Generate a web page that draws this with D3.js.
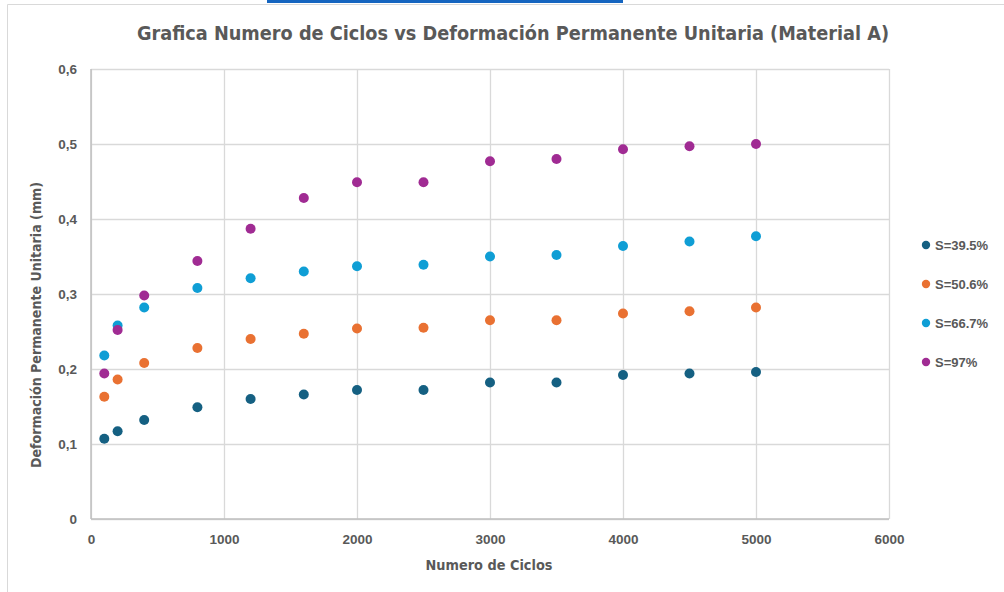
<!DOCTYPE html>
<html><head><meta charset="utf-8">
<script src="https://cdn.jsdelivr.net/npm/d3@7"></script>
<style>
html,body{margin:0;padding:0;background:#fff;}
svg{display:block;}
</style></head>
<body>
<svg id="chart" width="1004" height="592"></svg>
<script>
const cycles = [100, 200, 400, 800, 1200, 1600, 2000, 2500, 3000, 3500, 4000, 4500, 5000];
const seriesNames = ["S=39.5%", "S=50.6%", "S=66.7%", "S=97%"];
const s395 = [0.107, 0.117, 0.132, 0.149, 0.160, 0.166, 0.172, 0.172, 0.182, 0.182, 0.192, 0.194, 0.196];
const s506 = [0.163, 0.186, 0.208, 0.228, 0.240, 0.247, 0.254, 0.255, 0.265, 0.265, 0.274, 0.277, 0.282];
const s667 = [0.218, 0.258, 0.282, 0.308, 0.321, 0.330, 0.337, 0.339, 0.350, 0.352, 0.364, 0.370, 0.377];
const s97  = [0.194, 0.252, 0.298, 0.344, 0.387, 0.428, 0.449, 0.449, 0.477, 0.480, 0.493, 0.497, 0.500];
const seriesColors = ["#156082", "#E97132", "#0F9ED5", "#A02B93"];
const xTicks = [0, 1000, 2000, 3000, 4000, 5000, 6000];
const yTicks = [0, 0.1, 0.2, 0.3, 0.4, 0.5, 0.6];
const title = "Grafica Numero de Ciclos vs Deformación Permanente Unitaria (Material A)";
const xTitle = "Numero de Ciclos";
const yTitle = "Deformación Permanente Unitaria (mm)";

const allSeries = [s395, s506, s667, s97];
const svg = d3.select("#chart");

// frame
svg.append("line").attr("x1", 7.5).attr("x2", 1004).attr("y1", 4.5).attr("y2", 4.5).attr("stroke", "#d9d9d9").attr("stroke-width", 1);
svg.append("line").attr("x1", 7.5).attr("x2", 7.5).attr("y1", 4.5).attr("y2", 592).attr("stroke", "#d9d9d9").attr("stroke-width", 1);
svg.append("rect").attr("x", 267).attr("y", 0).attr("width", 356).attr("height", 3).attr("fill", "#1565C0");

const L = 91, R = 889, T = 69, B = 519;
const x = d3.scaleLinear().domain([0, 6000]).range([L, R]);
const y = d3.scaleLinear().domain([0, 0.6]).range([B, T]);

const fmt = d => d === 0 ? "0" : d3.format(".1f")(d).replace(".", ",");

// grid
const gx = svg.append("g").attr("transform", `translate(0,${B})`)
  .call(d3.axisBottom(x).tickValues(xTicks).tickSize(-(B - T)).tickFormat(d => d));
gx.select(".domain").remove();
gx.selectAll(".tick line").attr("stroke", "#d9d9d9").attr("stroke-width", 1.3);
gx.selectAll(".tick text").attr("dy", 0).attr("y", 25)
  .attr("font-family", "'Liberation Sans', Arial, sans-serif").attr("font-weight", "bold")
  .attr("font-size", 13.5).attr("fill", "#595959");

const gy = svg.append("g").attr("transform", `translate(${L},0)`)
  .call(d3.axisLeft(y).tickValues(yTicks).tickSize(-(R - L)).tickFormat(fmt));
gy.select(".domain").remove();
gy.selectAll(".tick line").attr("stroke", "#d9d9d9").attr("stroke-width", 1.3);
gy.selectAll(".tick text").attr("x", -14).attr("dy", "0.35em")
  .attr("font-family", "'Liberation Sans', Arial, sans-serif").attr("font-weight", "bold")
  .attr("font-size", 13.5).attr("fill", "#595959");

// axis lines
svg.append("line").attr("x1", L).attr("x2", R).attr("y1", B).attr("y2", B).attr("stroke", "#bfbfbf").attr("stroke-width", 1.5);
svg.append("line").attr("x1", L).attr("x2", L).attr("y1", T).attr("y2", B).attr("stroke", "#bfbfbf").attr("stroke-width", 1.5);

// points
allSeries.forEach((vals, i) => {
  svg.append("g").selectAll("circle").data(vals).join("circle")
    .attr("cx", (d, j) => x(cycles[j])).attr("cy", d => y(d))
    .attr("r", 5).attr("fill", seriesColors[i]);
});

// title
svg.append("text").attr("x", 513).attr("y", 40).attr("text-anchor", "middle")
  .attr("font-family", "'Liberation Sans Narrow', 'DejaVu Sans Condensed', sans-serif")
  .attr("font-weight", "bold").attr("font-size", 20).attr("fill", "#595959")
  .attr("textLength", 752).attr("lengthAdjust", "spacingAndGlyphs").text(title);

// axis titles
svg.append("text").attr("x", 489).attr("y", 570).attr("text-anchor", "middle")
  .attr("font-family", "'Liberation Sans Narrow', 'DejaVu Sans Condensed', sans-serif")
  .attr("font-weight", "bold").attr("font-size", 14.5).attr("fill", "#595959")
  .attr("textLength", 127).attr("lengthAdjust", "spacingAndGlyphs").text(xTitle);
svg.append("text").attr("transform", "translate(41,325) rotate(-90)").attr("text-anchor", "middle")
  .attr("font-family", "'Liberation Sans Narrow', 'DejaVu Sans Condensed', sans-serif")
  .attr("font-weight", "bold").attr("font-size", 14.5).attr("fill", "#595959")
  .attr("textLength", 286).attr("lengthAdjust", "spacingAndGlyphs").text(yTitle);

// legend
const legY = [245, 284, 323, 362];
const lg = svg.append("g");
seriesNames.forEach((n, i) => {
  lg.append("circle").attr("cx", 926).attr("cy", legY[i]).attr("r", 4.2).attr("fill", seriesColors[i]);
  lg.append("text").attr("x", 935).attr("y", legY[i]).attr("dy", "0.36em")
    .attr("font-family", "'Liberation Sans', Arial, sans-serif").attr("font-weight", "bold")
    .attr("font-size", 13).attr("fill", "#595959").text(n);
});
</script>
</body></html>
